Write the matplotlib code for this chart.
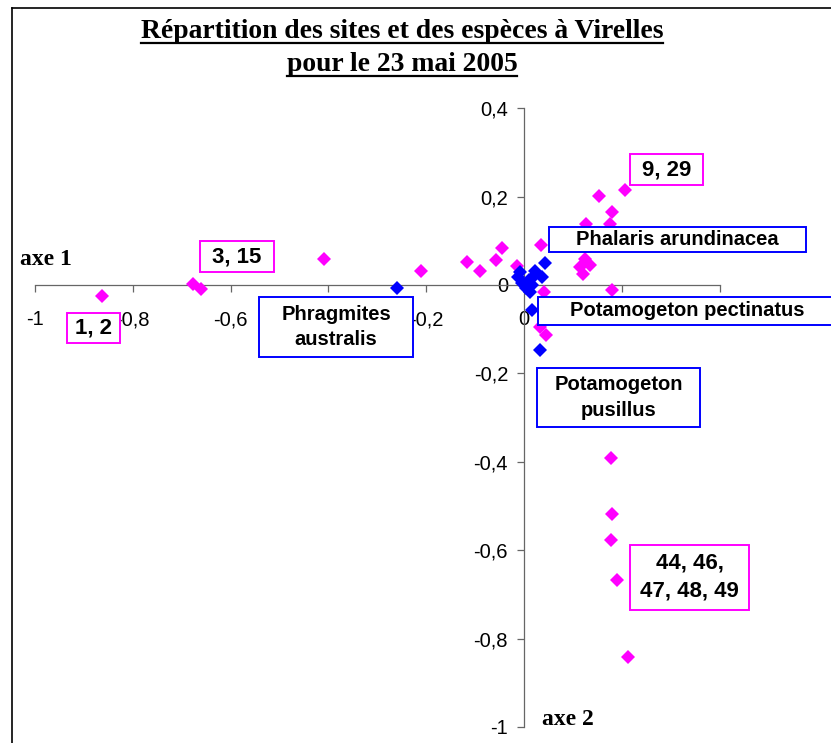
import matplotlib
matplotlib.use("Agg")
import matplotlib.pyplot as plt
from matplotlib.patches import Rectangle
from matplotlib.lines import Line2D
from matplotlib.ticker import FixedLocator, FuncFormatter

W, H = 831, 743

# Site scores (axe 1, axe 2)
site_x = [-0.863, -0.676, -0.661, -0.409, -0.211, -0.116, -0.090, -0.057,
          -0.044, -0.014, 0.034, 0.154, 0.207, 0.179, 0.127, 0.175, 0.125,
          0.115, 0.135, 0.121, 0.179, 0.040, 0.033, 0.045, 0.145, 0.178,
          0.180, 0.178, 0.190, 0.213]
site_y = [-0.026, 0.002, -0.010, 0.059, 0.031, 0.053, 0.032, 0.057,
          0.083, 0.042, 0.090, 0.201, 0.216, 0.166, 0.139, 0.139, 0.059,
          0.041, 0.045, 0.026, -0.012, -0.016, -0.094, -0.113, -0.205, -0.391,
          -0.517, -0.577, -0.667, -0.842]

# Species scores (axe 1, axe 2)
species_x = [-0.259, 0.042, 0.036, 0.022, -0.012, -0.004, 0.004, 0.012,
             0.010, 0.020, -0.008, 0.016, 0.016, 0.033]
species_y = [-0.007, 0.050, 0.019, 0.032, 0.018, 0.005, -0.007, -0.016,
             0.011, 0.020, 0.029, 0.000, -0.057, -0.147]

ticks = [-1, -0.8, -0.6, -0.4, -0.2, 0, 0.2, 0.4]
# x tick values whose labels sit entirely under a label box
hidden_x_labels = [-0.4, 0.2, 0.4]

# Label boxes: (x0, x1, y_bottom, y_top) in axis units
site_labels = ["1, 2", "3, 15", "9, 29", "44, 46,\n47, 48, 49"]
site_boxes = [(-0.935, -0.826, -0.131, -0.063),
              (-0.663, -0.511, 0.029, 0.0995),
              (0.217, 0.366, 0.226, 0.296),
              (0.217, 0.460, -0.735, -0.588)]
species_labels = ["Phalaris arundinacea", "Phragmites\naustralis",
                  "Potamogeton pectinatus", "Potamogeton\npusillus"]
species_boxes = [(0.051, 0.577, 0.075, 0.131),
                 (-0.542, -0.227, -0.163, -0.027),
                 (0.029, 0.700, -0.090, -0.027),
                 (0.027, 0.360, -0.321, -0.188)]
# centre of the text inside each species box (x, y)
species_text_pos = [(0.314, 0.103), (-0.384, -0.095), (0.333, -0.0585),
                    (0.193, -0.2545)]

MAGENTA = "#FF00FF"
BLUE = "#0000FF"
AXIS_GREY = "#666666"

fig = plt.figure(figsize=(W / 100, H / 100), dpi=100)
fig.patch.set_facecolor("white")

# plot area: x -1..0.4 spans px 35..719.6, y -1..0.4 spans px 727..108.2
left, right = 35, 719.6
top, bottom = 108.2, 727
ax = fig.add_axes([left / W, 1 - bottom / H, (right - left) / W, (bottom - top) / H])
ax.set_xlim(-1, 0.4)
ax.set_ylim(-1, 0.4)
ax.patch.set_visible(False)

for side in ("top", "right"):
    ax.spines[side].set_visible(False)
ax.spines["left"].set_position(("data", 0))
ax.spines["bottom"].set_position(("data", 0))
for side in ("left", "bottom"):
    ax.spines[side].set_color(AXIS_GREY)
    ax.spines[side].set_linewidth(0.9)


def fmt(v, _pos=None):
    v = round(v, 1)
    if abs(v - round(v)) < 1e-9:
        return "%d" % round(v)
    return ("%.1f" % v).replace(".", ",")


def fmt_x(v, pos):
    if any(abs(v - h) < 1e-9 for h in hidden_x_labels):
        return ""
    return fmt(v)


ax.xaxis.set_major_locator(FixedLocator(ticks))
ax.yaxis.set_major_locator(FixedLocator(ticks))
ax.xaxis.set_major_formatter(FuncFormatter(fmt_x))
ax.yaxis.set_major_formatter(FuncFormatter(fmt))
ax.tick_params(axis="both", direction="out", length=5, width=0.9,
               color=AXIS_GREY, labelsize=14.5)
ax.tick_params(axis="x", pad=13)
ax.tick_params(axis="y", pad=6.5)
for lab in ax.get_xticklabels() + ax.get_yticklabels():
    lab.set_fontfamily("Liberation Sans")

ax.plot(site_x, site_y, linestyle="none", marker="D", markersize=7.6,
        color=MAGENTA, markeredgewidth=0, zorder=3, clip_on=False)
ax.plot(species_x, species_y, linestyle="none", marker="D", markersize=7.6,
        color=BLUE, markeredgewidth=0, zorder=3.5, clip_on=False)


def draw_boxes(labels, boxes, colour, size, positions=None):
    for i, (text, (x0, x1, y0, y1)) in enumerate(zip(labels, boxes)):
        ax.add_patch(Rectangle((x0, y0), x1 - x0, y1 - y0, facecolor="white",
                               edgecolor=colour, linewidth=1.4, zorder=6,
                               clip_on=False))
        if positions is None:
            tx, ty = (x0 + x1) / 2, (y0 + y1) / 2
        else:
            tx, ty = positions[i]
        ax.text(tx, ty, text, ha="center", va="center",
                fontsize=size, fontweight="bold", family="Liberation Sans",
                linespacing=1.45, zorder=7, clip_on=False)


draw_boxes(species_labels, species_boxes, BLUE, 14.5, species_text_pos)
draw_boxes(site_labels, site_boxes, MAGENTA, 16)

# axis names
fig.text(20 / W, 1 - 265 / H, "axe 1", family="Liberation Serif",
         fontweight="bold", fontsize=17, ha="left", va="baseline")
fig.text(542 / W, 1 - 725 / H, "axe 2", family="Liberation Serif",
         fontweight="bold", fontsize=17, ha="left", va="baseline")

# underlined two-line title
title_lines = ["Répartition des sites et des espèces à Virelles",
               "pour le 23 mai 2005"]
baselines = [38, 71]
renderer = fig.canvas.get_renderer()
for line, base in zip(title_lines, baselines):
    t = fig.text(402 / W, 1 - base / H, line, family="Liberation Serif",
                 fontweight="bold", fontsize=19.9, ha="center", va="baseline")
    bb = t.get_window_extent(renderer)
    uy = 1 - (base + 5) / H
    fig.add_artist(Line2D([bb.x0 / W, bb.x1 / W], [uy, uy], color="black",
                          linewidth=1.6, transform=fig.transFigure))

# outer chart frame (left and top edges)
fx, fy = 12 / W, 1 - 7.7 / H
fig.add_artist(Line2D([fx, fx], [-0.01, fy], color="black", linewidth=1.2,
                      transform=fig.transFigure))
fig.add_artist(Line2D([fx, 1.01], [fy, fy], color="black", linewidth=1.2,
                      transform=fig.transFigure))

fig.savefig("out.png", dpi=100, facecolor="white")
